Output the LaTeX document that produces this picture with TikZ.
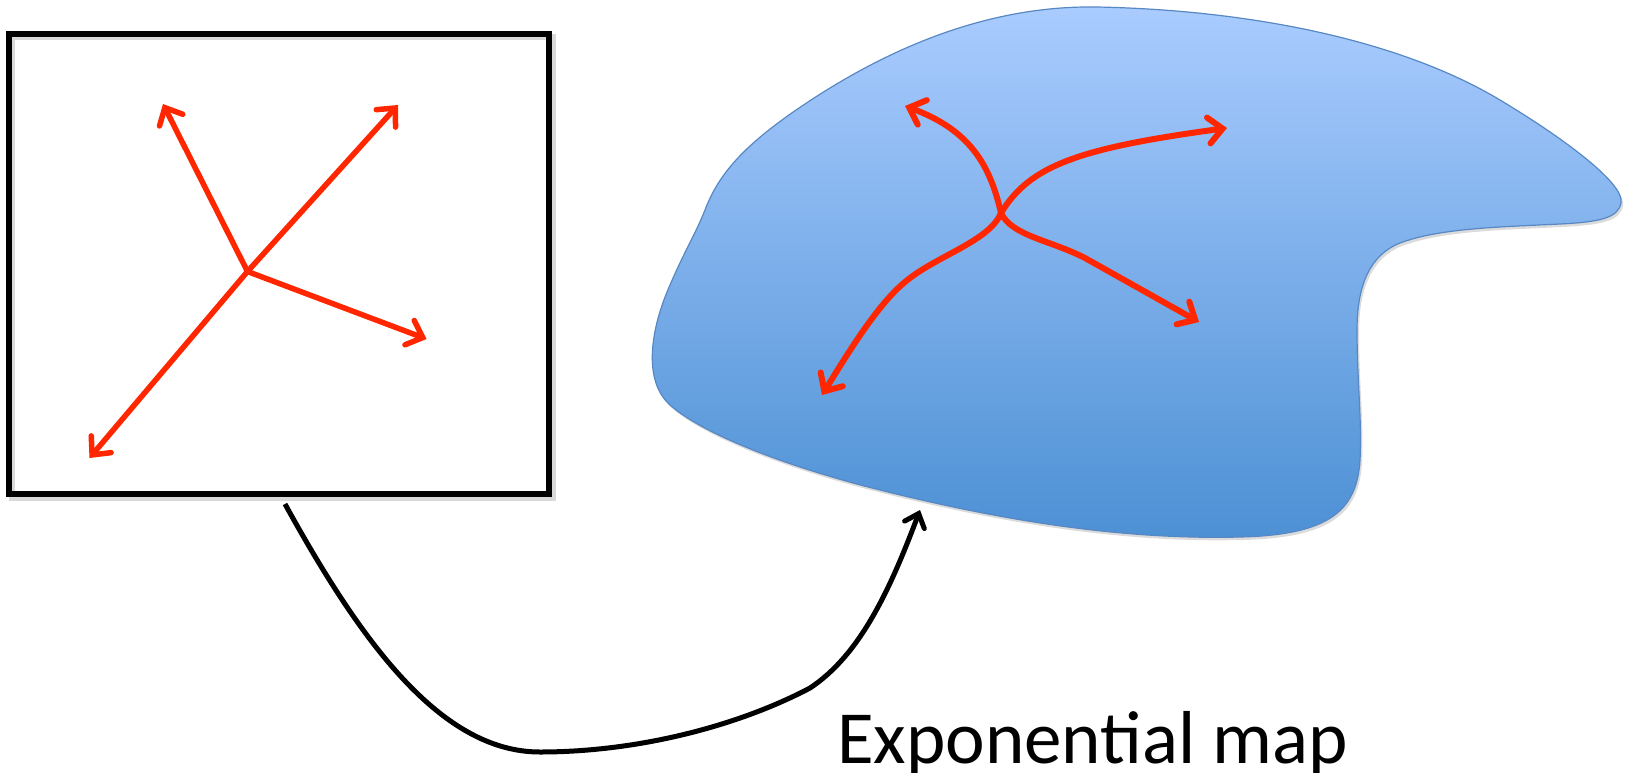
\documentclass[tikz,border=0pt]{standalone}
\usepackage{fontspec}
\setmainfont{Carlito}
\usetikzlibrary{arrows.meta}
\definecolor{vecred}{RGB}{255,38,0}
\definecolor{blobtop}{RGB}{170,204,255}
\definecolor{blobbot}{RGB}{76,144,212}
\definecolor{blobedge}{RGB}{88,136,196}
\tikzset{
  vec/.style={draw=vecred, line width=5.5pt, line cap=round, line join=round,
    -{Straight Barb[length=14pt,width=26pt,line cap=round]}},
  curvevec/.style={vec, line width=6pt},
  maparrow/.style={draw=black, line width=5pt,
    -{Straight Barb[length=12pt,width=21pt,line cap=round]}},
  frame/.style={draw=black, line width=6pt},
  label/.style={font=\fontsize{75}{86}\selectfont, inner sep=0pt}
}
\begin{document}
\begin{tikzpicture}[x=1pt,y=-1pt]
\useasboundingbox (0,0) rectangle (1631,772);
% tangent space box
\draw[black!15, line width=6pt] (11.5,37) rectangle (552.5,497.5);
\draw[frame] (9,33.5) rectangle (549,494);
\coordinate (o) at (247.5,271.5);
\coordinate (a1) at (163,104);
\coordinate (a2) at (398,105);
\coordinate (a3) at (426.5,339);
\coordinate (a4) at (89.5,458);
\draw[vec] (o) -- (a1);
\draw[vec] (o) -- (a2);
\draw[vec] (o) -- (a3);
\draw[vec] (o) -- (a4);
% manifold blob
\def\blob{(1097,7) .. controls (1250,10) and (1400,40) .. (1500,100)
 .. controls (1570,142) and (1625,185) .. (1621,203)
 .. controls (1618,218) and (1600,222) .. (1560,224)
 .. controls (1500,227) and (1440,228) .. (1400,243)
 .. controls (1370,255) and (1357,285) .. (1357,330)
 .. controls (1357,380) and (1362,420) .. (1360,460)
 .. controls (1357,510) and (1330,535) .. (1240,537)
 .. controls (1120,540) and (1000,520) .. (880,490)
 .. controls (780,465) and (700,432) .. (670,405)
 .. controls (643,381) and (650,330) .. (670,285)
 .. controls (685,250) and (695,235) .. (705,210)
 .. controls (720,170) and (750,140) .. (811,100)
 .. controls (880,55) and (980,5) .. (1097,7) -- cycle}
\fill[black!14, xshift=2pt, yshift=-3pt] \blob;
\shade[top color=blobtop, bottom color=blobbot, draw=blobedge, line width=1.2pt] \blob;
\coordinate (c) at (1001,213);
\coordinate (b1) at (905,106);
\coordinate (b2) at (1227,128);
\coordinate (b3) at (1199,322);
\coordinate (b4) at (822,395);
\draw[curvevec] (c) .. controls (990,165) and (970,130) .. (b1);
\draw[curvevec] (c) .. controls (1030,165) and (1080,148) .. (b2);
\draw[curvevec] (c) .. controls (1012,236) and (1050,240) .. (1085,258) -- (b3);
\draw[curvevec] (c) .. controls (990,240) and (940,255) .. (910,278) .. controls (880,300) and (850,350) .. (b4);
% exponential map arrow
\coordinate (s) at (285,504);
\coordinate (t) at (920,510);
\draw[maparrow] (s) .. controls (360,640) and (440,752) .. (540,752)
  .. controls (640,752) and (740,725) .. (810,688)
  .. controls (860,655) and (890,590) .. (t);
\node[label, anchor=base west] (lbl) at (837,763) {Exponential map};
\end{tikzpicture}
\end{document}
